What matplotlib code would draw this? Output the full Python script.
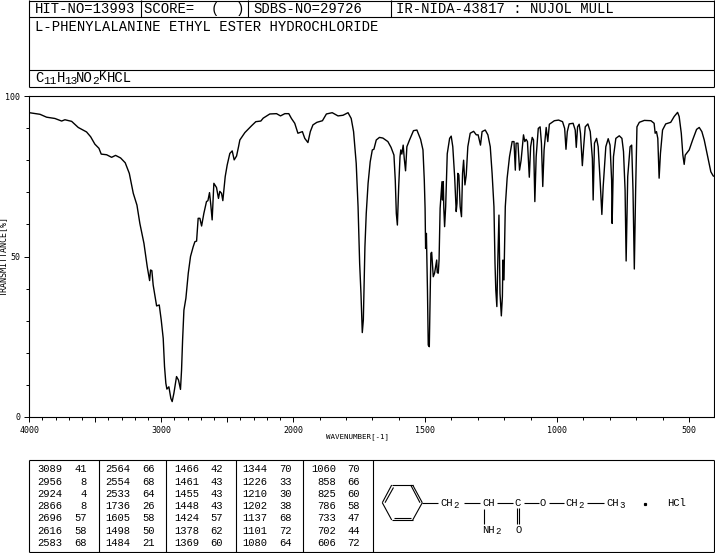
import matplotlib
matplotlib.use('Agg')
import matplotlib.pyplot as plt
import numpy as np

W, H = 715, 553

# spectrum, wavenumber (cm-1) and transmittance (%)
wavenumber = [
    4000, 3919, 3869, 3806, 3755, 3730, 3679, 3629, 3566, 3535, 3503, 3472, 3455, 3414, 3376, 3346, 3308, 3273,
    3242, 3212, 3184, 3162, 3131, 3106, 3088, 3081, 3071, 3061, 3035, 3015, 3000, 2985, 2975, 2965, 2957, 2942,
    2927, 2917, 2904, 2884, 2869, 2854, 2846, 2838, 2828, 2813, 2795, 2778, 2758, 2745, 2732, 2720, 2707, 2694,
    2677, 2657, 2646, 2634, 2624, 2614, 2601, 2581, 2566, 2556, 2543, 2533, 2515, 2500, 2480, 2462, 2447, 2429,
    2414, 2404, 2366, 2316, 2283, 2245, 2227, 2177, 2126, 2096, 2063, 2033, 2013, 1994, 1982, 1965, 1956, 1944,
    1935, 1925, 1910, 1889, 1874, 1852, 1830, 1811, 1792, 1780, 1771, 1761, 1754, 1748, 1743, 1738, 1734, 1728,
    1723, 1716, 1708, 1700, 1694, 1685, 1673, 1660, 1641, 1629, 1618, 1613, 1609, 1605, 1600, 1595, 1592, 1588,
    1583, 1579, 1574, 1569, 1559, 1544, 1531, 1517, 1508, 1503, 1500, 1498, 1495, 1491, 1488, 1484, 1481, 1478,
    1475, 1473, 1469, 1464, 1456, 1454, 1450, 1447, 1443, 1436, 1434, 1431, 1429, 1426, 1422, 1416, 1407, 1401,
    1395, 1388, 1382, 1379, 1376, 1372, 1367, 1362, 1358, 1354, 1349, 1344, 1338, 1329, 1316, 1306, 1299, 1290,
    1284, 1272, 1262, 1253, 1246, 1239, 1235, 1232, 1228, 1224, 1220, 1216, 1211, 1207, 1205, 1201, 1196, 1189,
    1180, 1170, 1163, 1158, 1155, 1148, 1142, 1136, 1127, 1122, 1117, 1112, 1105, 1100, 1094, 1089, 1084, 1079,
    1071, 1064, 1059, 1054, 1049, 1041, 1035, 1029, 1010, 994, 979, 971, 966, 961, 954, 939, 931, 927,
    922, 916, 911, 904, 899, 893, 883, 874, 866, 863, 858, 850, 844, 836, 830, 825, 815, 806,
    799, 793, 791, 786, 777, 764, 754, 748, 742, 738, 732, 723, 717, 712, 707, 702, 697, 688,
    669, 644, 632, 628, 623, 618, 613, 608, 600, 588, 569, 556, 543, 537, 529, 523, 518, 514,
    499, 486, 471, 461, 451, 442, 429, 417, 408, 405,
]
transmittance = [
    94.8, 94.3, 93.4, 93.0, 92.2, 92.6, 92.1, 90.2, 88.8, 87.3, 85.0, 83.7, 81.9, 81.7, 80.9, 81.5, 80.7, 79.2,
    75.9, 69.7, 66.0, 60.3, 54.1, 46.8, 42.5, 45.8, 45.6, 41.1, 34.6, 34.9, 30.2, 24.5, 15.7, 10.5, 8.7, 9.4,
    5.8, 4.8, 7.4, 12.6, 11.5, 8.6, 14.6, 24.0, 33.3, 37.0, 44.8, 50.0, 53.0, 54.6, 54.8, 61.9, 61.9, 59.5,
    63.4, 67.1, 67.4, 69.9, 66.0, 61.4, 72.8, 71.5, 68.1, 70.3, 69.7, 67.4, 74.9, 78.5, 82.1, 82.9, 80.1, 81.3,
    84.2, 86.3, 88.6, 90.7, 92.0, 92.2, 93.1, 94.4, 94.5, 93.8, 94.5, 94.5, 93.0, 91.5, 88.4, 88.9, 86.8, 85.5,
    88.9, 91.0, 91.8, 92.3, 94.4, 94.8, 93.8, 94.0, 94.8, 93.0, 88.9, 79.0, 65.5, 47.9, 38.5, 26.3, 30.2, 53.0,
    63.4, 72.8, 79.5, 83.2, 83.4, 86.3, 87.1, 86.9, 85.8, 84.0, 81.6, 73.8, 63.4, 59.8, 71.8, 81.1, 83.2, 81.9,
    84.7, 80.6, 76.7, 84.2, 86.3, 89.2, 89.4, 86.5, 83.2, 73.8, 65.0, 52.5, 57.2, 39.6, 22.4, 21.9, 37.5, 51.0,
    51.3, 48.9, 43.7, 44.8, 48.9, 45.0, 44.8, 48.9, 65.0, 73.3, 67.6, 73.3, 65.0, 59.3, 65.5, 82.0, 86.8, 87.5,
    84.2, 74.9, 64.0, 66.6, 75.9, 75.4, 65.5, 62.4, 75.9, 80.0, 72.3, 75.4, 84.2, 88.4, 89.0, 87.9, 87.9, 84.7,
    88.9, 89.4, 87.9, 84.2, 75.9, 65.5, 47.9, 39.6, 34.4, 50.0, 62.9, 38.5, 31.5, 37.5, 48.9, 42.7, 65.5, 74.4,
    81.1, 85.8, 85.8, 76.9, 85.3, 85.3, 76.9, 80.0, 87.9, 85.8, 86.5, 85.8, 74.7, 84.2, 87.1, 86.3, 67.1, 81.1,
    89.9, 90.4, 85.3, 71.8, 83.2, 90.2, 85.8, 91.2, 92.3, 92.5, 92.0, 89.9, 83.4, 88.9, 91.3, 91.5, 89.4, 84.0,
    90.4, 91.2, 88.4, 78.3, 84.2, 90.4, 91.3, 88.9, 80.6, 67.6, 85.3, 86.8, 84.2, 72.8, 63.1, 71.8, 84.2, 86.7,
    84.7, 73.8, 60.3, 81.1, 86.8, 87.6, 86.8, 82.7, 70.7, 48.6, 74.9, 84.2, 84.7, 70.7, 46.1, 70.7, 90.4, 91.8,
    92.4, 92.3, 91.5, 88.4, 88.9, 86.8, 74.4, 82.1, 89.4, 91.3, 91.8, 93.6, 94.9, 93.6, 88.4, 81.6, 78.7, 81.6,
    83.2, 86.3, 89.6, 90.2, 88.9, 86.3, 81.1, 76.4, 75.1, 75.0,
]

# peak table, one pair of lists per column
peak_wn_1 = [3089, 2956, 2924, 2866, 2696, 2616, 2583]
peak_t_1 = [41, 8, 4, 8, 57, 58, 68]
peak_wn_2 = [2564, 2554, 2533, 1736, 1605, 1498, 1484]
peak_t_2 = [66, 68, 64, 26, 58, 50, 21]
peak_wn_3 = [1466, 1461, 1455, 1448, 1424, 1378, 1369]
peak_t_3 = [42, 43, 43, 43, 57, 62, 60]
peak_wn_4 = [1344, 1226, 1210, 1202, 1137, 1101, 1080]
peak_t_4 = [70, 33, 30, 38, 68, 72, 64]
peak_wn_5 = [1060, 858, 825, 786, 733, 702, 606]
peak_t_5 = [70, 66, 60, 58, 47, 44, 72]

major_ticks = [4000, 3500, 3000, 2500, 2000, 1500, 1000, 500]
major_labels = ['4000', '', '3000', '', '2000', '1500', '1000', '500']


def forward(w):
    # the axis is twice as wide per wavenumber below 2000
    w = np.asarray(w, dtype=float)
    return np.where(w < 2000, w, 2000 + (w - 2000) / 2)


def inverse(v):
    v = np.asarray(v, dtype=float)
    return np.where(v < 2000, v, 2000 + (v - 2000) * 2)


fig = plt.figure(figsize=(W / 100, H / 100), dpi=100)

ax = fig.add_axes([29.3 / W, 1 - 417 / H, (714 - 29.3) / W, (417 - 96) / H])
ax.set_xscale('function', functions=(forward, inverse))
ax.plot(wavenumber, transmittance, color='k', lw=1.0)
ax.set_xlim(4000, 405)
ax.set_ylim(0, 100)
ax.set_xticks(major_ticks)
ax.set_xticklabels(major_labels, family='DejaVu Sans Mono', fontsize=6)
ax.set_xticks(np.arange(500, 4000, 100), minor=True)
ax.set_xticklabels([], minor=True)
ax.set_yticks([0, 50, 100])
ax.set_yticklabels(['0', '50', '100'], family='DejaVu Sans Mono', fontsize=6)
ax.set_yticks(np.arange(0, 100, 10), minor=True)
ax.tick_params(which='major', length=3.6, width=0.7, pad=3)
ax.tick_params(which='minor', length=2.0, width=0.7)
for spine in ax.spines.values():
    spine.set_linewidth(0.8)

# everything around the plot is laid out in image pixels
page = fig.add_axes([0, 0, 1, 1], facecolor='none')
page.set_xlim(0, W)
page.set_ylim(H, 0)
page.axis('off')


def rule(x0, y0, x1, y1, lw=0.8):
    page.plot([x0, x1], [y0, y1], color='k', lw=lw, solid_capstyle='butt')


def label(x, y, s, size=10, ha='left', **kw):
    page.text(x, y, s, family='Liberation Mono', fontsize=size, ha=ha, va='center', color='k', **kw)


# header box
rule(29.3, 0.7, 714, 0.7)
rule(29.3, 17, 714, 17)
rule(29.3, 69.5, 714, 69.5)
rule(29.3, 87, 714, 87)
rule(29.3, 0, 29.3, 87)
rule(714, 0, 714, 87)
for x in [141, 248, 391]:
    rule(x, 0, x, 17)
label(35, 9, 'HIT-NO=13993')
label(144, 9, 'SCORE=  (  )')
label(253, 9, 'SDBS-NO=29726')
label(396, 9, 'IR-NIDA-43817 : NUJOL MULL')
label(35, 27, 'L-PHENYLALANINE ETHYL ESTER HYDROCHLORIDE')

# formula, subscripts placed one by one
for x, y, s, size in [(35, 78, 'C', 10), (43, 81, '11', 8), (57, 78, 'H', 10), (64, 81, '13', 8),
                      (76, 78, 'NO', 10), (92, 81, '2', 8), (99, 77, 'K', 9), (107, 78, 'HCL', 10)]:
    label(x, y, s, size=size)

page.text(3.5, 256, 'TRANSMITTANCE[%]', family='DejaVu Sans Mono', fontsize=6, rotation=90,
          ha='center', va='center')
page.text(358, 437, 'WAVENUMBER[-1]', family='DejaVu Sans Mono', fontsize=5.4, ha='center', va='center')

# peak table
rule(29.3, 460, 714, 460)
rule(29.3, 552.3, 714, 552.3)
rule(29.3, 460, 29.3, 552.3)
rule(714, 460, 714, 552.3)
for x in [98.7, 166, 235.5, 303.3, 372.7]:
    rule(x, 460, x, 552.3)

row_y = [469.3, 481.7, 494, 506, 518.3, 531, 543]
columns = [(62.7, 86.7, peak_wn_1, peak_t_1), (130.7, 154.5, peak_wn_2, peak_t_2),
           (199.3, 222.7, peak_wn_3, peak_t_3), (267.3, 291.7, peak_wn_4, peak_t_4),
           (336, 360, peak_wn_5, peak_t_5)]
for x_wn, x_t, wns, ts in columns:
    for y, w, t in zip(row_y, wns, ts):
        label(x_wn, y, str(w), size=7.6, ha='right')
        label(x_t, y, str(t), size=7.6, ha='right')

# structure drawing
ring = [(382.3, 502.7), (391.7, 485), (412.7, 485), (422.3, 502.7), (412.7, 520), (391.7, 520), (382.3, 502.7)]
for (x0, y0), (x1, y1) in zip(ring[:-1], ring[1:]):
    rule(x0, y0, x1, y1)
rule(385, 502.7, 393.5, 487.5)
rule(410.7, 485, 420, 502.7)
rule(393.5, 517.5, 410.7, 517.5)
for x0, x1 in [(422.3, 438), (463.5, 479.5), (497, 512.5), (523.5, 538.5), (548.5, 564), (587, 604)]:
    rule(x0, 502.7, x1, 502.7)
rule(483.7, 508.5, 483.7, 524)
rule(516.5, 508, 516.5, 524)
rule(518.8, 508, 518.8, 524)

for x, y, s, size in [(440.5, 503, 'CH', 7.6), (453.5, 505, '2', 6.5), (482, 503, 'CH', 7.6), (514, 503, 'C', 7.6),
                      (540, 503, 'O', 7.6), (565, 503, 'CH', 7.6), (578, 505, '2', 6.5), (606, 503, 'CH', 7.6),
                      (619, 505, '3', 6.5), (482.5, 530, 'NH', 7.6), (495, 532, '2', 6.5), (515, 530, 'O', 7.6),
                      (667.5, 503, 'HCl', 7.6)]:
    label(x, y, s, size=size)
page.plot([645], [503.7], marker='s', ms=1.3, color='k')

fig.savefig('out.png', dpi=100)
